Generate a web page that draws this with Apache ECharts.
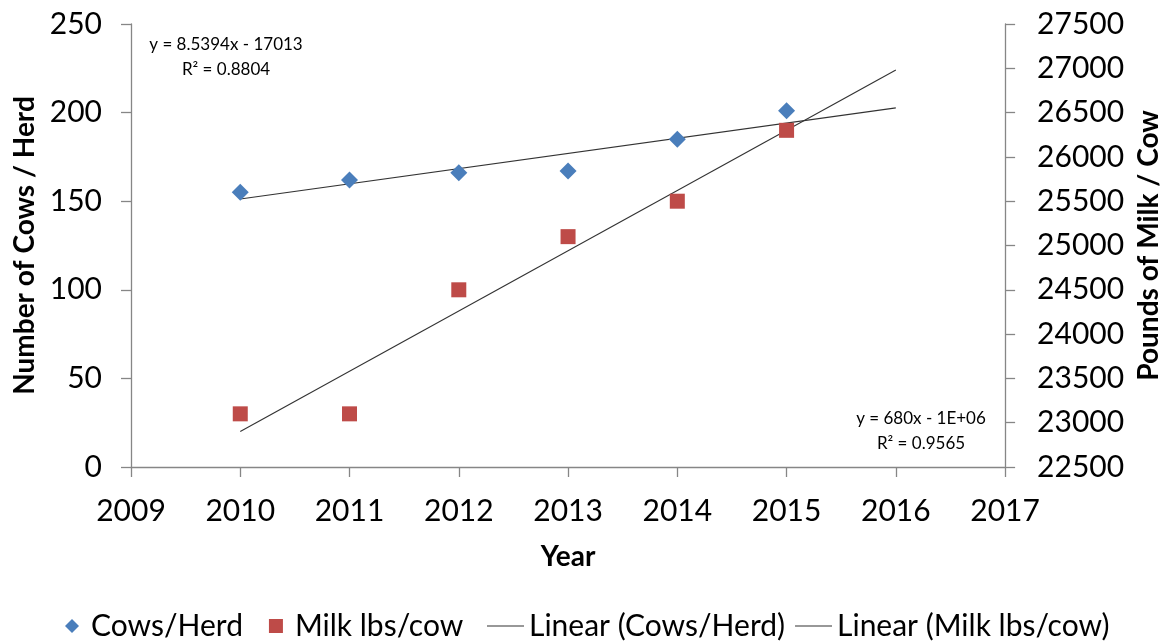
<!DOCTYPE html>
<html>
<head>
<meta charset="utf-8">
<script src="https://cdn.jsdelivr.net/npm/echarts@6/dist/echarts.min.js"></script>
<style>html,body{margin:0;padding:0;background:#fff}#c{width:1171px;height:642px}</style>
</head>
<body>
<div id="c"></div>
<script>
const years = [2010, 2011, 2012, 2013, 2014, 2015];
const cowsPerHerd = [155, 162, 166, 167, 185, 201];
const milkLbsPerCow = [23100, 23100, 24500, 25100, 25500, 26300];
const trendRange = [2010, 2016];
const cowsEquation = ['y = 8.5394x - 17013', 'R² = 0.8804'];
const milkEquation = ['y = 680x - 1E+06', 'R² = 0.9565'];

function linFit(xs, ys) {
  const n = xs.length;
  const mx = xs.reduce((a, b) => a + b, 0) / n;
  const my = ys.reduce((a, b) => a + b, 0) / n;
  let sxy = 0, sxx = 0;
  for (let i = 0; i < n; i++) { sxy += (xs[i] - mx) * (ys[i] - my); sxx += (xs[i] - mx) ** 2; }
  const m = sxy / sxx, b = my - m * mx;
  return trendRange.map(x => [x, m * x + b]);
}

const FONT = 'Lato';
const axisGray = '#868686';
const diamond = 'path://M5 0 L10 5 L5 10 L0 5 Z';
const lineIcon = 'path://M0 0 H40 V1 H0 Z';

const chart = echarts.init(document.getElementById('c'));
chart.setOption({
  animation: false,
  textStyle: { fontFamily: FONT },
  grid: { left: 131, right: 164, top: 24, bottom: 175 },
  xAxis: {
    type: 'value', min: 2009, max: 2017, interval: 1,
    name: 'Year', nameLocation: 'middle', nameGap: 76,
    nameTextStyle: { fontSize: 28, fontWeight: 'bold', color: '#000', fontFamily: FONT },
    axisLine: { show: true, onZero: false, lineStyle: { color: axisGray, width: 1.3 } },
    axisTick: { show: true, length: 10, lineStyle: { color: axisGray, width: 1.3 } },
    axisLabel: { fontSize: 30, color: '#000', margin: 29, formatter: v => String(v) },
    splitLine: { show: false }
  },
  yAxis: [{
    type: 'value', min: 0, max: 250, interval: 50, position: 'left',
    name: 'Number of Cows / Herd', nameLocation: 'middle', nameGap: 88,
    nameTextStyle: { fontSize: 28, fontWeight: 'bold', color: '#000', fontFamily: FONT },
    axisLine: { show: true, lineStyle: { color: axisGray, width: 1.3 } },
    axisTick: { show: true, length: 10, lineStyle: { color: axisGray, width: 1.3 } },
    axisLabel: { fontSize: 30, color: '#000', margin: 29, formatter: v => String(v) },
    splitLine: { show: false }
  }, {
    type: 'value', min: 22500, max: 27500, interval: 500, position: 'right',
    name: 'Pounds of Milk / Cow', nameLocation: 'middle', nameGap: 128,
    nameTextStyle: { fontSize: 28, fontWeight: 'bold', color: '#000', fontFamily: FONT },
    axisLine: { show: true, lineStyle: { color: axisGray, width: 1.3 } },
    axisTick: { show: true, length: 10, lineStyle: { color: axisGray, width: 1.3 } },
    axisLabel: { fontSize: 30, color: '#000', margin: 32, formatter: v => String(v) },
    splitLine: { show: false }
  }],
  legend: [{
    top: 606, left: 60, itemGap: 26, itemWidth: 14, itemHeight: 14,
    textStyle: { fontSize: 30, color: '#000', fontFamily: FONT, padding: [0, 0, 0, 7] },
    data: [
      { name: 'Cows/Herd', icon: diamond },
      { name: 'Milk lbs/cow', icon: 'rect' }
    ]
  }, {
    top: 606, left: 482, itemGap: 10, itemWidth: 37, itemHeight: 1.2,
    textStyle: { fontSize: 30, color: '#000', fontFamily: FONT },
    data: [
      { name: 'Linear (Cows/Herd)', icon: lineIcon },
      { name: 'Linear (Milk lbs/cow)', icon: lineIcon }
    ]
  }],
  series: [{
    name: 'Cows/Herd', type: 'scatter', yAxisIndex: 0,
    symbol: diamond, symbolSize: 17,
    itemStyle: { color: '#4A7EBB', opacity: 1 },
    data: years.map((y, i) => [y, cowsPerHerd[i]]), z: 3
  }, {
    name: 'Milk lbs/cow', type: 'scatter', yAxisIndex: 1,
    symbol: 'rect', symbolSize: 15,
    itemStyle: { color: '#BE4B48', opacity: 1 },
    data: years.map((y, i) => [y, milkLbsPerCow[i]]), z: 3
  }, {
    name: 'Linear (Cows/Herd)', type: 'line', yAxisIndex: 0, showSymbol: false, symbol: 'none',
    lineStyle: { color: '#333', width: 1.1 }, itemStyle: { color: '#333' },
    data: linFit(years, cowsPerHerd), z: 2
  }, {
    name: 'Linear (Milk lbs/cow)', type: 'line', yAxisIndex: 1, showSymbol: false, symbol: 'none',
    lineStyle: { color: '#333', width: 1.1 }, itemStyle: { color: '#333' },
    data: linFit(years, milkLbsPerCow), z: 2
  }],
  graphic: [{
    type: 'text', x: 226, y: 32,
    style: { text: cowsEquation.join('\n'), font: '17px Lato', fill: '#000', align: 'center', verticalAlign: 'top', lineHeight: 25 }
  }, {
    type: 'text', x: 921, y: 406,
    style: { text: milkEquation.join('\n'), font: '17px Lato', fill: '#000', align: 'center', verticalAlign: 'top', lineHeight: 25 }
  }]
});
</script>
</body>
</html>
